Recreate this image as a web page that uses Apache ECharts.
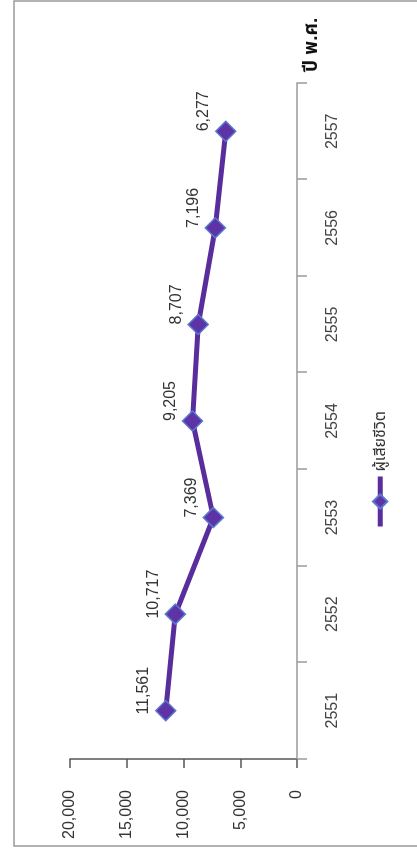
<!DOCTYPE html>
<html>
<head>
<meta charset="utf-8">
<script src="https://cdn.jsdelivr.net/npm/echarts@6/dist/echarts.min.js"></script>
<style>
  html, body { margin: 0; padding: 0; background: #fff; overflow: hidden; }
  /* chart is drawn landscape, then turned a quarter to the left */
  #chart {
    position: absolute;
    left: 0;
    top: 0;
    width: 852px;
    height: 417px;
    transform-origin: 0 0;
    transform: translate(0, 852px) rotate(-90deg);
  }
</style>
</head>
<body>
<div id="chart"></div>
<script>
var years = ['2551', '2552', '2553', '2554', '2555', '2556', '2557'];
var deaths = [11561, 10717, 7369, 9205, 8707, 7196, 6277];
var valueTicks = [0, 5000, 10000, 15000, 20000];
var seriesName = 'ผู้เสียชีวิต';
var axisTitle = 'ปี พ.ศ.';

var font = '"Liberation Sans", Arial, "Noto Sans Thai", "Noto Sans", sans-serif';

var myChart = echarts.init(document.getElementById('chart'));
var option = {
  animation: false,
  textStyle: { fontFamily: font },
  graphic: [
    {
      type: 'rect',
      shape: { x: 6, y: 14, width: 845, height: 430 },
      style: { fill: 'none', stroke: '#9a9a9a', lineWidth: 1.5 }
    }
  ],
  legend: {
    left: 318,
    top: 367,
    itemWidth: 50,
    itemHeight: 18,
    itemGap: 10,
    lineStyle: { width: 5 },
    textStyle: { fontSize: 16, color: '#333', fontFamily: font },
    data: [seriesName]
  },
  grid: {
    left: 93,
    right: 83,
    top: 70,
    bottom: 120
  },
  xAxis: {
    type: 'category',
    data: years,
    name: axisTitle,
    nameLocation: 'end',
    nameGap: 11,
    nameTextStyle: {
      fontSize: 19,
      fontWeight: 'bold',
      color: '#111',
      verticalAlign: 'top',
      padding: [5, 0, 0, 0]
    },
    axisLine: { lineStyle: { color: '#9a9a9a', width: 1.5 } },
    axisTick: { show: true, length: 10, lineStyle: { color: '#9a9a9a', width: 1.5 } },
    axisLabel: { fontSize: 16, color: '#444', margin: 28 },
    splitLine: { show: false }
  },
  yAxis: {
    type: 'value',
    min: 0,
    max: 20000,
    interval: 5000,
    axisLine: { show: true, lineStyle: { color: '#555', width: 1.5 } },
    axisTick: { show: true, length: 9, lineStyle: { color: '#555', width: 1.5 } },
    axisLabel: {
      fontSize: 16,
      color: '#333',
      margin: 31,
      formatter: function (v) {
        return valueTicks.indexOf(v) >= 0 ? v.toLocaleString('en-US') : '';
      }
    },
    splitLine: { show: false }
  },
  series: [
    {
      name: seriesName,
      type: 'line',
      data: deaths,
      symbol: 'diamond',
      symbolSize: 20,
      lineStyle: { color: '#5a2d9c', width: 5 },
      itemStyle: { color: '#5e33a6', borderColor: '#5a78d0', borderWidth: 1.5 },
      label: {
        show: true,
        position: 'top',
        offset: [20, 2],
        fontSize: 16,
        color: '#333',
        formatter: function (p) {
          return p.value.toLocaleString('en-US');
        }
      }
    }
  ]
};
myChart.setOption(option);
</script>
</body>
</html>
